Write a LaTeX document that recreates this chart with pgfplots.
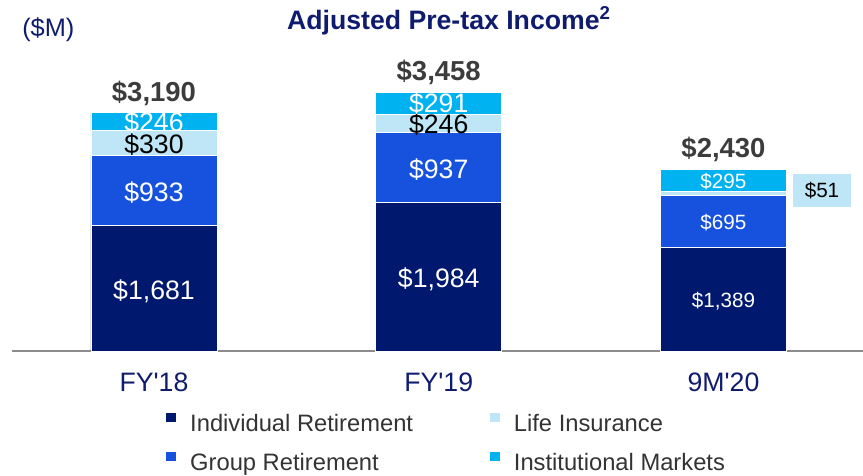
\documentclass[border=0pt]{standalone}
\usepackage{fontspec}
\setmainfont{Liberation Sans}[Ligatures=TeXOff]
\usepackage{pgfplots}
\pgfplotsset{compat=1.18}

\definecolor{navy}{HTML}{00186E}
\definecolor{grpblue}{HTML}{1652DE}
\definecolor{lifeblue}{HTML}{BEE6F6}
\definecolor{instblue}{HTML}{00B2F0}
\definecolor{titlenavy}{HTML}{0F1C6E}
\definecolor{totgray}{HTML}{3C3C3C}
\definecolor{leggray}{HTML}{333333}
\definecolor{axisgray}{HTML}{8C8C8C}

\tikzset{
  lbl/.style={inner sep=0pt, text height=14.3pt, text depth=0pt, anchor=center,
    font=\fontsize{20}{24}\selectfont},
  lbls/.style={inner sep=0pt, text height=11.1pt, text depth=0pt, anchor=center,
    font=\fontsize{15.5}{18}\selectfont},
  tot/.style={inner sep=0pt, text height=14.75pt, text depth=0pt, anchor=center,
    font=\fontsize{20.6}{24}\selectfont\bfseries, text=totgray},
}

\begin{document}
\begin{tikzpicture}
\path[use as bounding box] (-8.7pt,-93.75pt) rectangle (638.6pt,263.25pt);
\begin{axis}[
    scale only axis,
    width=638.6pt, height=263.25pt,
    xmin=-0.5, xmax=2.49, ymin=0, ymax=4692,
    ybar stacked, bar width=94.5pt,
    axis x line=bottom, axis y line=none,
    axis line style={draw=axisgray, line width=1.5pt, -},
    xtick={0,1,2}, xticklabels={FY'18,FY'19,9M'20},
    major tick length=0pt, ytick=\empty,
    xticklabel style={anchor=base, yshift=-30.75pt,
      font=\fontsize{20}{24}\selectfont, text=titlenavy},
    clip=false,
    legend columns=2, transpose legend, legend cell align=left,
    legend image code/.code={\fill[#1, draw=none] (0pt,2.6pt) rectangle (7.3pt,9.4pt);},
    legend style={draw=none, fill=none, inner sep=0pt,
      at={(rel axis cs:0.1816,-0.1765)}, anchor=north west,
      font=\fontsize{17.8}{20}\selectfont, text=leggray,
      nodes={inner sep=0pt, text height=13pt, text depth=4pt},
      /tikz/column sep=10.5pt,
      /tikz/every even column/.append style={column sep=57.8pt},
      /tikz/row sep=11.5pt},
]
\addplot[fill=navy, draw=white, line width=0.4pt] coordinates {(0,1681) (1,1984) (2,1389)};
\addplot[fill=grpblue, draw=white, line width=0.4pt] coordinates {(0,933) (1,937) (2,695)};
\addplot[fill=lifeblue, draw=white, line width=0.4pt] coordinates {(0,330) (1,246) (2,51)};
\addplot[fill=instblue, draw=white, line width=0.4pt] coordinates {(0,246) (1,291) (2,295)};
\legend{Individual Retirement, Group Retirement, Life Insurance, Institutional Markets}

% label anchors, drawn after the axis so they sit above the bars
\coordinate (a1) at (axis cs:0,820);
\coordinate (a2) at (axis cs:0,2130);
\coordinate (a3) at (axis cs:0,2767);
\coordinate (a4) at (axis cs:0,3055);
\coordinate (b1) at (axis cs:1,979);
\coordinate (b2) at (axis cs:1,2429);
\coordinate (b3) at (axis cs:1,3032);
\coordinate (b4) at (axis cs:1,3311);
\coordinate (c1) at (axis cs:2,675);
\coordinate (c2) at (axis cs:2,1718);
\coordinate (c4) at (axis cs:2,2275);
\coordinate (c3) at (axis cs:2.346,2146);
\coordinate (ta) at (axis cs:0,3467);
\coordinate (tb) at (axis cs:1,3746);
\coordinate (tc) at (axis cs:2,2720);
\end{axis}

\node[lbl, text=white] at (a1) {\$1,681};
\node[lbl, text=white] at (a2) {\$933};
\node[lbl, text=black] at (a3) {\$330};
\node[lbl, text=white] at (a4) {\$246};
\node[lbl, text=white] at (b1) {\$1,984};
\node[lbl, text=white] at (b2) {\$937};
\node[lbl, text=black] at (b3) {\$246};
\node[lbl, text=white] at (b4) {\$291};
\node[lbls, text=white] at (c1) {\$1,389};
\node[lbls, text=white] at (c2) {\$695};
\node[lbls, text=white] at (c4) {\$295};
\node[lbls, text=black, fill=lifeblue, minimum width=43.5pt, minimum height=24.75pt,
  text height=11.1pt] at (c3) {\$51};
\node[tot] at (ta) {\$3,190};
\node[tot] at (tb) {\$3,458};
\node[tot] at (tc) {\$2,430};

\node[anchor=base, font=\fontsize{20}{24}\selectfont\bfseries, text=titlenavy]
  at (328pt,241.3pt) {Adjusted Pre-tax Income\textsuperscript{2}};
\node[anchor=base west, inner sep=0pt, font=\fontsize{19}{22}\selectfont, text=titlenavy]
  at (7.8pt,235.7pt) {(\$M)};
\end{tikzpicture}
\end{document}
